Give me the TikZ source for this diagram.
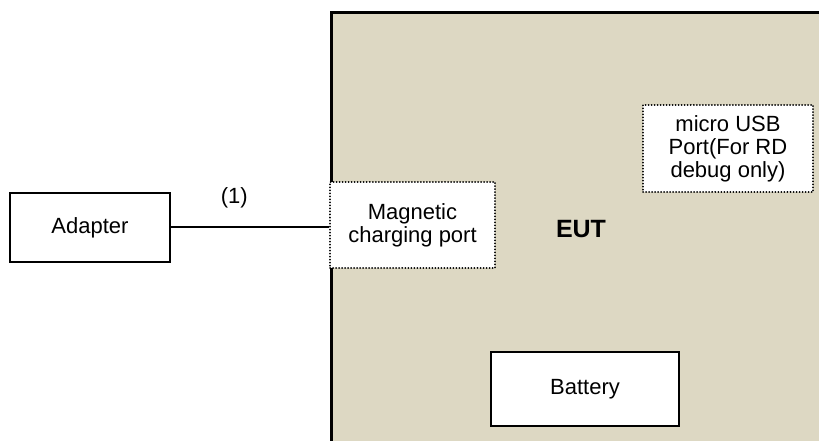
\documentclass[tikz,border=0pt]{standalone}
\usepackage{fontspec}
\setmainfont{Liberation Sans}
\definecolor{eutfill}{HTML}{DDD8C3}
\begin{document}
\begin{tikzpicture}[x=1pt,y=-1pt,
  box/.style={draw=black,line width=2pt,fill=white,inner sep=0pt,align=center,font=\fontsize{22}{23}\selectfont},
  dotbox/.style={draw=black,line width=2pt,dash pattern=on 0.01pt off 3pt,line cap=round,fill=white,inner sep=0pt,align=center,font=\fontsize{22}{23}\selectfont},
  lbl/.style={inner sep=0pt,font=\fontsize{22}{23}\selectfont}]
\useasboundingbox (0,0) rectangle (819,441);
\begin{scope}
\clip (0,0) rectangle (819,441);
\node[draw=black,line width=3pt,fill=eutfill,minimum width=520pt,minimum height=460pt,anchor=north west,inner sep=0pt] (eut) at (330,11) {};
\end{scope}
\node[box,minimum width=160pt,minimum height=69pt] (adapter) at (90,227.5) {Adapter};
\node[dotbox,minimum width=165pt,minimum height=86pt] (mag) at (412.5,225) {Magnetic\\charging port};
\node[dotbox,minimum width=170pt,minimum height=87pt] (usb) at (728,148.5) {micro USB\\Port(For RD\\debug only)};
\node[box,line width=2.5pt,minimum width=188pt,minimum height=74pt] (bat) at (585,389) {Battery};
\node[inner sep=0pt,font=\fontsize{25}{27}\selectfont\bfseries] (eutl) at (581,229) {EUT};
\coordinate (lnA) at (adapter.east |- 0,227);
\coordinate (lnB) at (mag.west |- 0,227);
\draw[line width=1.5pt] (lnA) -- (lnB) node[lbl,pos=0.4,above=18pt] (one) {(1)};
\end{tikzpicture}
\end{document}
